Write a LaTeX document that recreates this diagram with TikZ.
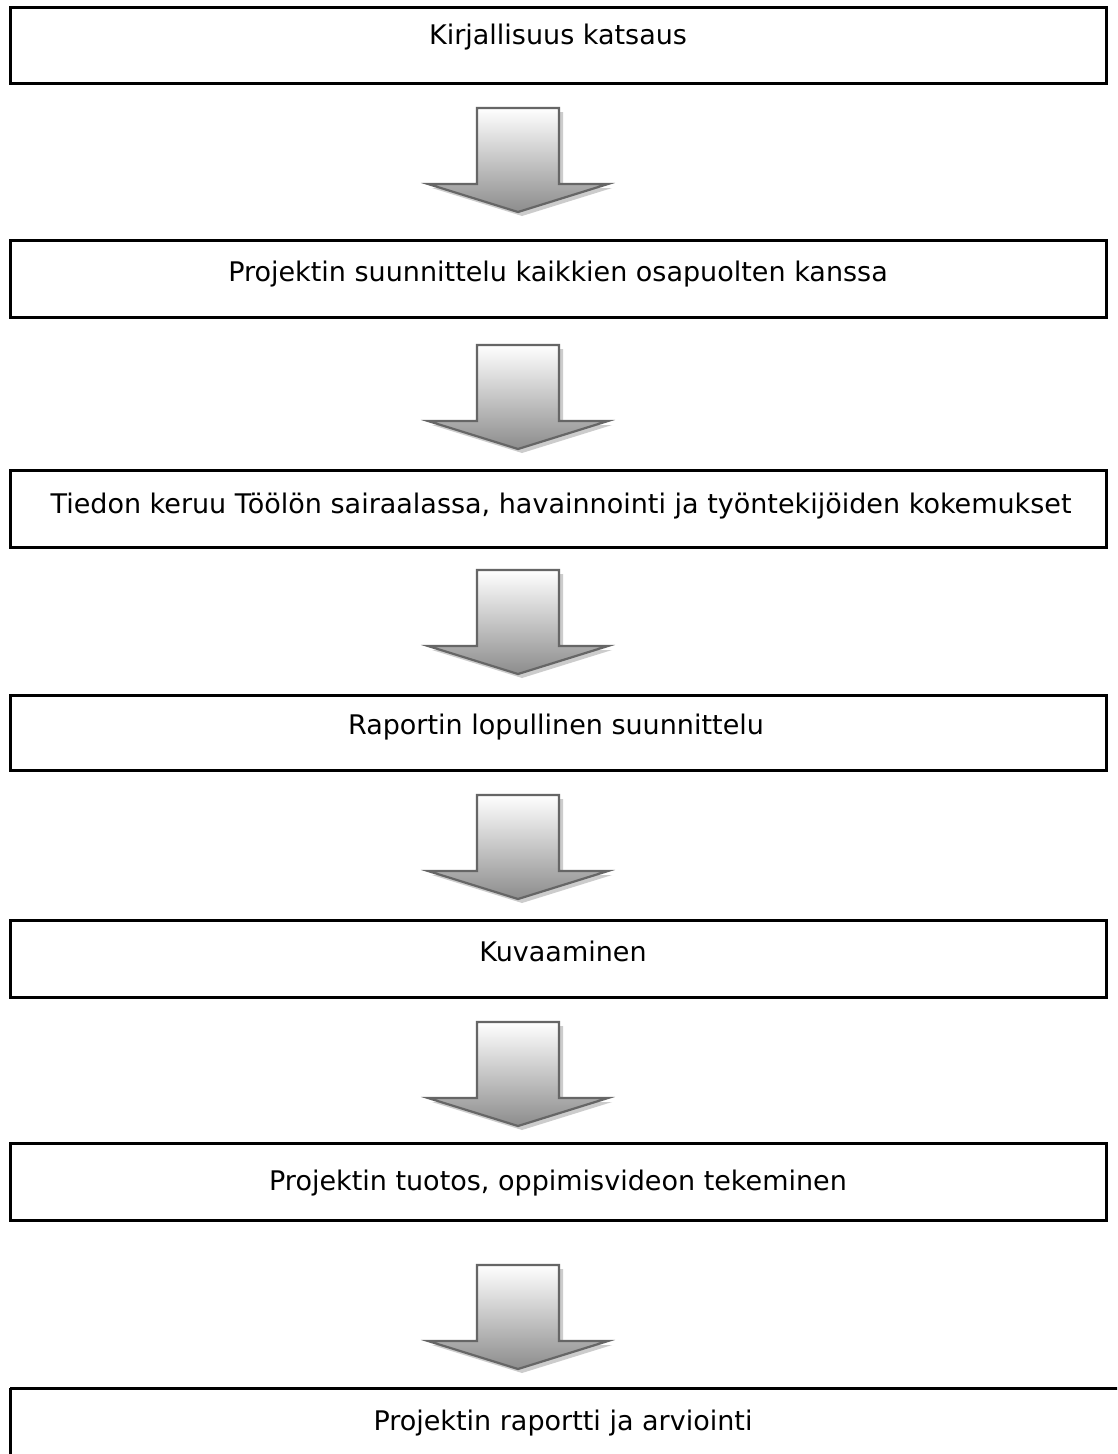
\documentclass[tikz,border=0pt]{standalone}
\usepackage{fontspec}
\setmainfont{DejaVu Sans}
\usetikzlibrary{shadings}
\begin{document}
\begin{tikzpicture}[x=1pt,y=-1pt,
  stepbox/.style={draw=black,line width=3pt,fill=white},
  steptext/.style={font=\fontsize{27}{30}\selectfont,anchor=center,inner sep=0pt},
  arrowbody/.style={draw=black!60,line width=2.2pt,line join=miter,top color=white,bottom color=black!45},
  arrowshadow/.style={fill=black!20,draw=none}]
\clip (0,0) rectangle (1117,1454);
\fill[white] (0,0) rectangle (1117,1454);
% boxes
\foreach \name/\top/\bot in {b1/7/83,b2/240/317,b3/470/547,b4/695/770,b5/920/997,b6/1143/1220,b7/1388/1480}{
  \coordinate (\name-nw) at (10,\top);
  \coordinate (\name-se) at (1106,\bot);
}
\draw[stepbox] (b1-nw) rectangle (b1-se);
\draw[stepbox] (b2-nw) rectangle (b2-se);
\draw[stepbox] (b3-nw) rectangle (b3-se);
\draw[stepbox] (b4-nw) rectangle (b4-se);
\draw[stepbox] (b5-nw) rectangle (b5-se);
\draw[stepbox] (b6-nw) rectangle (b6-se);
\draw[stepbox] (10,1388) -- (1130,1388) (10,1388) -- (10,1470);
\node[steptext] (t1) at (558,37) {Kirjallisuus katsaus};
\node[steptext] (t2) at (558,274) {Projektin suunnittelu kaikkien osapuolten kanssa};
\node[steptext] (t3) at (561,506) {Tiedon keruu Töölön sairaalassa, havainnointi ja työntekijöiden kokemukset};
\node[steptext] (t4) at (556,727) {Raportin lopullinen suunnittelu};
\node[steptext] (t5) at (563,951) {Kuvaaminen};
\node[steptext] (t6) at (558,1183) {Projektin tuotos, oppimisvideon tekeminen};
\node[steptext] (t7) at (563,1423) {Projektin raportti ja arviointi};
% arrows
\foreach \n/\y in {a1/108,a2/345,a3/570,a4/795,a5/1022,a6/1265}{
  \coordinate (\n) at (518,\y);
  \fill[arrowshadow,shift={(\n)},xshift=4pt,yshift=-4pt]
     (-41,0) -- (41,0) -- (41,76) -- (90,76) -- (0,104) -- (-90,76) -- (-41,76) -- cycle;
  \draw[arrowbody,shift={(\n)}]
     (-41,0) -- (41,0) -- (41,76) -- (90,76) -- (0,104) -- (-90,76) -- (-41,76) -- cycle;
}
\end{tikzpicture}
\end{document}
